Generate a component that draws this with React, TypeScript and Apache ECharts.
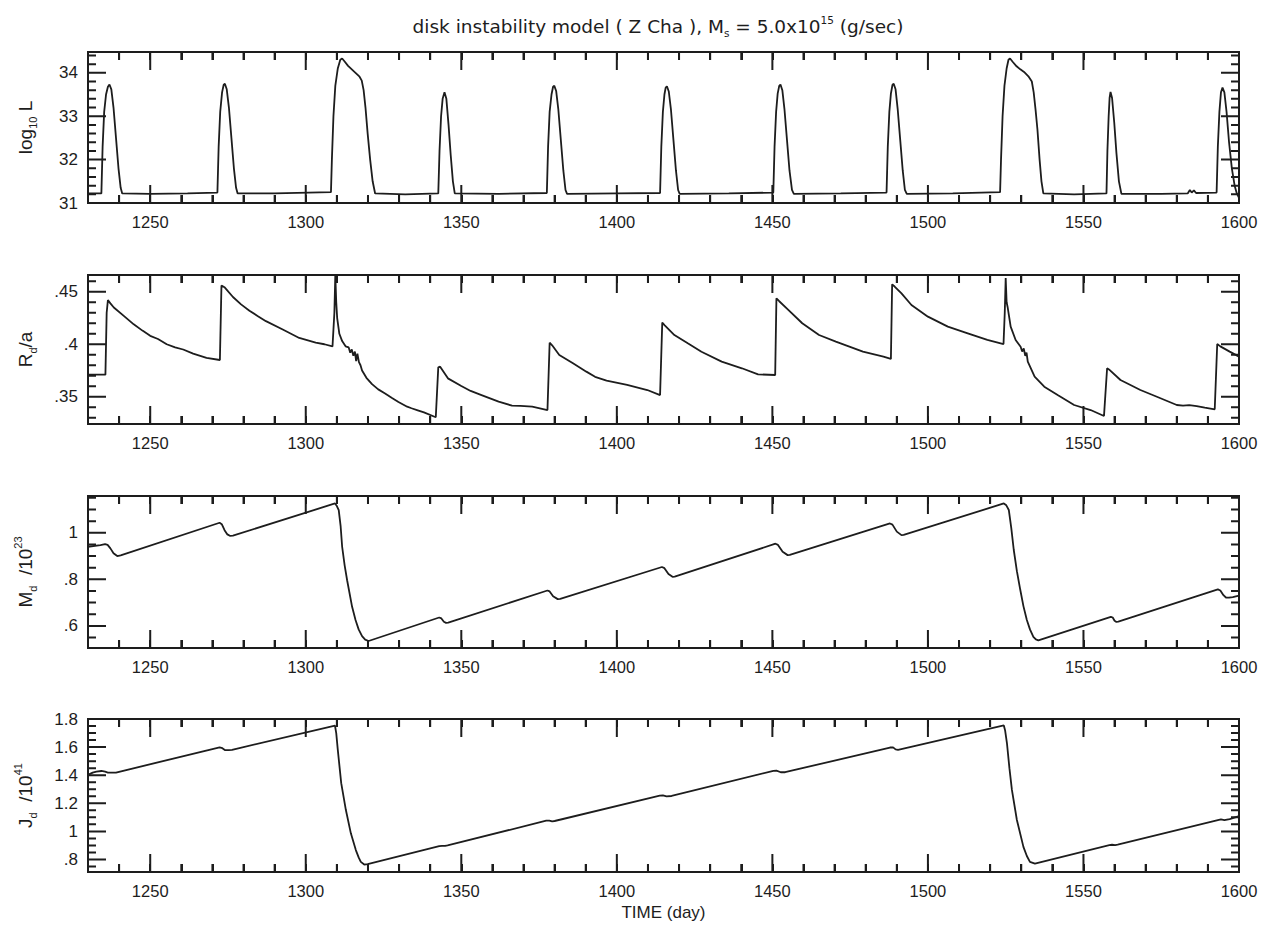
import React, { useEffect, useRef } from "react";
import * as echarts from "echarts";

// ---------- axes ----------
const X_MIN = 1230;
const X_MAX = 1600;
const X_STEP = 10;
const X_MAJOR = [1250, 1300, 1350, 1400, 1450, 1500, 1550, 1600];

const L_RANGE = [31, 34.48];
const L_MAJOR = [31, 32, 33, 34];
const R_RANGE = [0.324, 0.466];
const R_MAJOR = [0.35, 0.4, 0.45];
const M_RANGE = [0.505, 1.158];
const M_MAJOR = [0.6, 0.8, 1];
const J_RANGE = [0.711, 1.8];
const J_MAJOR = [0.8, 1, 1.2, 1.4, 1.6, 1.8];

// ---------- data: [time (day), value] ----------
const logL = [
  [1230.0, 31.22], [1234.3, 31.22], [1234.7, 32.3], [1235.2, 33.1], [1235.8, 33.5], [1236.4, 33.68], [1236.9, 33.73],
  [1237.5, 33.62], [1238.2, 33.2], [1239.0, 32.5], [1239.8, 31.8], [1240.5, 31.35], [1241.0, 31.22], [1250, 31.21],
  [1262, 31.22], [1271.6, 31.24], [1272.0, 32.3], [1272.5, 33.1], [1273.1, 33.55], [1273.6, 33.72], [1274.0, 33.75],
  [1274.6, 33.62], [1275.3, 33.2], [1276.1, 32.5], [1276.9, 31.8], [1277.6, 31.35], [1278.1, 31.22], [1290, 31.22],
  [1308.1, 31.25], [1308.4, 32.0], [1308.9, 33.0], [1309.5, 33.7], [1310.3, 34.1], [1311.1, 34.3], [1311.7, 34.33],
  [1312.5, 34.26], [1313.6, 34.16], [1314.8, 34.08], [1316.0, 34.0], [1317.2, 33.92], [1318.0, 33.82], [1318.6, 33.6],
  [1319.2, 33.2], [1319.9, 32.6], [1320.7, 32.0], [1321.5, 31.5], [1322.3, 31.22], [1332, 31.2], [1342.6, 31.22],
  [1343.0, 32.2], [1343.5, 33.0], [1344.0, 33.4], [1344.6, 33.55], [1345.2, 33.4], [1345.9, 32.8], [1346.6, 32.1],
  [1347.3, 31.5], [1347.9, 31.22], [1362, 31.21], [1377.5, 31.23], [1377.9, 32.3], [1378.4, 33.1], [1379.0, 33.5],
  [1379.5, 33.68], [1379.9, 33.7], [1380.5, 33.58], [1381.2, 33.15], [1382.0, 32.45], [1382.8, 31.75], [1383.5, 31.3],
  [1384.0, 31.21], [1400, 31.22], [1413.9, 31.23], [1414.3, 32.3], [1414.8, 33.1], [1415.3, 33.5], [1415.7, 33.66],
  [1416.1, 33.69], [1416.7, 33.57], [1417.4, 33.15], [1418.2, 32.45], [1419.0, 31.75], [1419.7, 31.3], [1420.2, 31.21],
  [1436, 31.22], [1450.3, 31.24], [1450.7, 32.3], [1451.2, 33.1], [1451.7, 33.52], [1452.2, 33.7], [1452.6, 33.73],
  [1453.2, 33.6], [1453.9, 33.15], [1454.7, 32.45], [1455.5, 31.75], [1456.3, 31.3], [1456.9, 31.21], [1472, 31.22],
  [1486.7, 31.24], [1487.1, 32.3], [1487.6, 33.1], [1488.1, 33.52], [1488.6, 33.72], [1489.0, 33.75], [1489.6, 33.62],
  [1490.3, 33.15], [1491.1, 32.45], [1491.9, 31.75], [1492.6, 31.3], [1493.2, 31.21], [1508, 31.22], [1523.2, 31.25],
  [1523.5, 32.0], [1524.0, 33.0], [1524.6, 33.7], [1525.3, 34.1], [1525.9, 34.3], [1526.4, 34.33], [1527.3, 34.25],
  [1528.5, 34.15], [1529.7, 34.08], [1530.9, 34.02], [1532.3, 33.92], [1533.4, 33.8], [1534.0, 33.55], [1534.6, 33.15],
  [1535.2, 32.7], [1535.9, 32.0], [1536.5, 31.5], [1537.1, 31.22], [1547, 31.2], [1557.4, 31.22], [1557.7, 32.2],
  [1558.1, 33.0], [1558.4, 33.42], [1558.7, 33.56], [1559.2, 33.42], [1559.9, 32.85], [1560.6, 32.15], [1561.4, 31.5],
  [1562.2, 31.21], [1575, 31.21], [1583.5, 31.22], [1584.2, 31.3], [1584.8, 31.24], [1585.5, 31.29], [1586.2, 31.23],
  [1592.8, 31.24], [1593.2, 32.3], [1593.7, 33.1], [1594.2, 33.55], [1594.7, 33.66], [1595.3, 33.55], [1596.0, 33.1],
  [1596.8, 32.4], [1597.7, 31.8], [1598.6, 31.4], [1599.3, 31.22], [1600, 31.12],
];

const rdA = [
  [1230, 0.371], [1235.6, 0.371], [1236.0, 0.43], [1236.4, 0.442], [1237.2, 0.439], [1238.3, 0.435], [1241.5, 0.427],
  [1244.7, 0.419], [1247.5, 0.413], [1250, 0.408], [1252.5, 0.405], [1255.3, 0.4], [1258, 0.397], [1260.6, 0.395],
  [1263.8, 0.391], [1268.1, 0.387], [1272.4, 0.385], [1272.9, 0.456], [1274.0, 0.454], [1276.6, 0.445], [1279.2, 0.438],
  [1281.9, 0.432], [1284.5, 0.427], [1287.2, 0.422], [1292.6, 0.414], [1297.9, 0.406], [1303.2, 0.4016], [1306, 0.4],
  [1308.6, 0.398], [1309.2, 0.43], [1309.5, 0.466], [1309.8, 0.44], [1310.1, 0.425], [1310.8, 0.41], [1311.7, 0.403],
  [1312.8, 0.398], [1313.8, 0.397], [1314.3, 0.392], [1314.8, 0.395], [1315.3, 0.389], [1315.8, 0.393], [1316.2, 0.384],
  [1316.6, 0.391], [1317.1, 0.383], [1317.6, 0.38], [1318.1, 0.375], [1319.5, 0.368], [1321.3, 0.362], [1323.3, 0.357],
  [1325.5, 0.353], [1327.6, 0.349], [1329.8, 0.345], [1332.6, 0.3405], [1334, 0.339], [1336, 0.337], [1338, 0.335],
  [1341.8, 0.3304], [1342.6, 0.378], [1343.2, 0.3786], [1345.7, 0.3675], [1350, 0.3602], [1353, 0.3555], [1356.5, 0.3516],
  [1362, 0.3453], [1366.3, 0.3415], [1369, 0.3413], [1372.8, 0.3405], [1377.7, 0.3373], [1378.4, 0.4015], [1379.2, 0.399],
  [1381.5, 0.3898], [1385.9, 0.3818], [1390.2, 0.3739], [1393, 0.369], [1396.7, 0.3653], [1403.3, 0.3612], [1409.8, 0.3564],
  [1413.9, 0.3516], [1414.6, 0.4206], [1415.4, 0.418], [1418.5, 0.4088], [1422.8, 0.4009], [1427.2, 0.3929], [1433.7, 0.3834],
  [1440.2, 0.3771], [1445.4, 0.3713], [1450.9, 0.3707], [1451.3, 0.4438], [1452.2, 0.441], [1455.2, 0.4326], [1459.6, 0.42],
  [1465, 0.4088], [1470.4, 0.4025], [1479.1, 0.3929], [1485.7, 0.3882], [1488.1, 0.386], [1488.5, 0.4571], [1489.3, 0.455],
  [1491.5, 0.4485], [1494.7, 0.4374], [1500, 0.4263], [1506.4, 0.4168], [1512.8, 0.4104], [1519.1, 0.4041], [1524.3, 0.4002],
  [1524.7, 0.43], [1525.0, 0.463], [1525.3, 0.44], [1525.6, 0.4358], [1526.6, 0.4168], [1528.2, 0.4041], [1529.8, 0.3977],
  [1530.3, 0.393], [1530.8, 0.396], [1531.3, 0.389], [1531.7, 0.392], [1532.1, 0.3834], [1534.3, 0.3691], [1537.4, 0.3596],
  [1541.7, 0.3516], [1547, 0.3421], [1552.3, 0.3373], [1556.6, 0.3316], [1557.6, 0.3771], [1558.2, 0.376], [1561.9, 0.3659],
  [1568.3, 0.3564], [1573.6, 0.35], [1580, 0.3421], [1582, 0.3415], [1584, 0.342], [1586.4, 0.3411], [1589, 0.3395],
  [1592.2, 0.338], [1593.0, 0.4002], [1594, 0.398], [1597, 0.393], [1600, 0.3882],
];

const massD = [
  [1230, 0.94], [1234, 0.947], [1235.5, 0.951], [1236.3, 0.948], [1237.2, 0.933], [1238.2, 0.912], [1239.4, 0.9],
  [1240.5, 0.903], [1272.3, 1.043], [1273.0, 1.037], [1273.9, 1.011], [1274.8, 0.993], [1275.6, 0.987], [1276.6, 0.988],
  [1309.4, 1.126], [1310.0, 1.115], [1310.6, 1.097], [1311.2, 1.03], [1311.7, 0.94], [1312.5, 0.86], [1313.3, 0.796],
  [1314.9, 0.682], [1316.0, 0.625], [1317, 0.585], [1318.1, 0.556], [1319.1, 0.541], [1320.2, 0.535], [1342.9, 0.636],
  [1343.6, 0.632], [1344.4, 0.618], [1345.1, 0.613], [1345.8, 0.614], [1377.7, 0.752], [1378.4, 0.748], [1379.5, 0.727],
  [1381, 0.715], [1381.8, 0.716], [1414.5, 0.853], [1415.3, 0.848], [1416.6, 0.823], [1417.9, 0.811], [1418.6, 0.812],
  [1451.0, 0.953], [1451.8, 0.948], [1453.3, 0.918], [1454.9, 0.904], [1455.6, 0.905], [1487.8, 1.04], [1488.6, 1.035],
  [1490.0, 1.005], [1491.5, 0.99], [1492.2, 0.991], [1524.4, 1.126], [1525.2, 1.118], [1526.0, 1.098], [1526.8, 1.02],
  [1527.6, 0.926], [1528.6, 0.835], [1529.7, 0.754], [1530.7, 0.685], [1531.8, 0.625], [1532.8, 0.585], [1533.9, 0.553],
  [1534.7, 0.542], [1535.5, 0.538], [1558.8, 0.639], [1559.4, 0.636], [1560.0, 0.622], [1560.6, 0.617], [1561.2, 0.618],
  [1593.2, 0.757], [1594.0, 0.752], [1595.0, 0.732], [1595.8, 0.722], [1596.8, 0.721], [1598, 0.724], [1600, 0.73],
];

const angJ = [
  [1230, 1.402], [1231.5, 1.418], [1232.7, 1.426], [1234.3, 1.43], [1235.5, 1.425], [1236.4, 1.419], [1239, 1.419],
  [1272.3, 1.598], [1273.2, 1.592], [1274.1, 1.578], [1275.2, 1.578], [1276.3, 1.581], [1309.4, 1.752], [1309.8, 1.7],
  [1310.3, 1.58], [1311.4, 1.343], [1312.9, 1.152], [1314.5, 0.986], [1316.1, 0.867], [1317.0, 0.815], [1317.7, 0.783],
  [1318.8, 0.764], [1319.9, 0.767], [1342.9, 0.895], [1343.8, 0.897], [1344.8, 0.897], [1345.6, 0.9], [1377.3, 1.076],
  [1378.3, 1.077], [1379.2, 1.072], [1380.0, 1.074], [1413.8, 1.254], [1414.8, 1.256], [1416.0, 1.249], [1417.6, 1.252],
  [1450.3, 1.431], [1451.3, 1.432], [1452.7, 1.421], [1454.1, 1.421], [1487.8, 1.597], [1488.8, 1.598], [1489.6, 1.584],
  [1490.4, 1.581], [1524.4, 1.754], [1524.8, 1.72], [1525.4, 1.629], [1526.2, 1.45], [1527.0, 1.295], [1528.6, 1.081],
  [1530.7, 0.89], [1531.8, 0.825], [1532.8, 0.783], [1534.4, 0.771], [1558.3, 0.902], [1559.2, 0.905], [1560.2, 0.903],
  [1561.0, 0.906], [1593.2, 1.081], [1594.2, 1.085], [1595.3, 1.081], [1597, 1.088], [1600, 1.109],
];

// ---------- helpers (tick positions only) ----------
function steps(a: number, b: number, s: number): number[] {
  const out: number[] = [];
  const n = Math.round((b - a) / s);
  for (let i = 0; i <= n; i++) out.push(+(a + i * s).toFixed(6));
  return out;
}
const X_TICKS = steps(1240, 1600, X_STEP); // multiples of 50 are major
const L_TICKS = steps(31.2, 34.4, 0.2);
const R_TICKS = steps(0.33, 0.46, 0.01);
const M_TICKS = steps(0.55, 1.15, 0.05);
const J_TICKS = steps(0.75, 1.8, 0.05);

const FONT = "'Liberation Sans', Arial, Helvetica, sans-serif";
const TITLE_FONT = "'DejaVu Sans', 'Liberation Sans', sans-serif";
const INK = "#1d1d1d";
const MAJOR_LEN = 18; // px
const MINOR_LEN = 8; // px
const TICK_W = 2;
const GRID_LEFT = 88;
const GRID_RIGHT = 38;
const PLOT_W = 1277 - GRID_LEFT - GRID_RIGHT;

const richStyles = {
  b: { fontSize: 19, fontFamily: FONT, color: INK, lineHeight: 26 },
  s: { fontSize: 11, fontFamily: FONT, color: INK, lineHeight: 12, verticalAlign: "bottom" as const },
  p: { fontSize: 11, fontFamily: FONT, color: INK, lineHeight: 12, verticalAlign: "top" as const },
};

const fmt = (v: number) => {
  const s = String(+v.toFixed(4));
  return s.startsWith("0.") ? s.slice(1) : s;
};

const PANELS = [
  { top: 52, height: 151, range: L_RANGE, major: L_MAJOR, ticks: L_TICKS, data: logL, name: "{b|log}{s|10}{b| L}", gap: 50 },
  { top: 275, height: 149, range: R_RANGE, major: R_MAJOR, ticks: R_TICKS, data: rdA, name: "{b|R}{s|d}{b|/a}", gap: 50 },
  { top: 496, height: 152, range: M_RANGE, major: M_MAJOR, ticks: M_TICKS, data: massD, name: "{b|M}{s|d}{b|  /10}{p|23}", gap: 50 },
  { top: 719, height: 153, range: J_RANGE, major: J_MAJOR, ticks: J_TICKS, data: angJ, name: "{b|J}{s|d}{b|  /10}{p|41}", gap: 50 },
];

const isIn = (list: number[], v: number) => list.some((m) => Math.abs(m - v) < 1e-6);

// A continuous comb running along one edge of the frame: along the edge, in for the tick, back, on.
function combX(p: (typeof PANELS)[number], atTop: boolean) {
  const [yMin, yMax] = p.range;
  const span = yMax - yMin;
  const base = atTop ? yMax : yMin;
  const sign = atTop ? -1 : 1;
  const pts: number[][] = [[X_MIN, base]];
  X_TICKS.forEach((v) => {
    const len = isIn(X_MAJOR, v) ? MAJOR_LEN : MINOR_LEN;
    const d = (len / p.height) * span * sign;
    pts.push([v, base], [v, base + d], [v, base]);
  });
  return pts;
}
function combY(p: (typeof PANELS)[number], atRight: boolean) {
  const span = X_MAX - X_MIN;
  const base = atRight ? X_MAX : X_MIN;
  const sign = atRight ? -1 : 1;
  const pts: number[][] = [[base, p.range[0]]];
  p.ticks.forEach((v) => {
    const len = isIn(p.major, v) ? MAJOR_LEN : MINOR_LEN;
    const d = (len / PLOT_W) * span * sign;
    pts.push([base, v], [base + d, v], [base, v]);
  });
  pts.push([base, p.range[1]]);
  return pts;
}

function buildOption() {
  const grid: any[] = [];
  const xAxis: any[] = [];
  const yAxis: any[] = [];
  const series: any[] = [];

  PANELS.forEach((p, g) => {
    grid.push({
      left: GRID_LEFT,
      right: GRID_RIGHT,
      top: p.top,
      height: p.height,
      show: true,
      borderColor: INK,
      borderWidth: 2,
      backgroundColor: "transparent",
    });

    const nativeTicks = {
      show: true,
      inside: true,
      length: MINOR_LEN,
      lineStyle: { color: INK, width: TICK_W },
    };

    // bottom axis: native 10-day ticks (min is a multiple of the interval), labels every 50
    xAxis.push({
      type: "value",
      gridIndex: g,
      position: "bottom",
      min: X_MIN,
      max: X_MAX,
      interval: X_STEP,
      axisLine: { show: false, onZero: false },
      axisTick: nativeTicks,
      axisLabel: {
        show: true,
        customValues: X_MAJOR,
        margin: 10,
        fontSize: 16.5,
        fontFamily: FONT,
        color: INK,
        formatter: (v: number) => String(v),
      },
      splitLine: { show: false },
      ...(g === 3
        ? {
            name: "TIME (day)",
            nameLocation: "middle",
            nameGap: 32,
            nameTextStyle: { fontSize: 17, fontFamily: FONT, color: INK },
          }
        : {}),
    });
    // top axis: same ticks, no labels
    xAxis.push({
      type: "value",
      gridIndex: g,
      position: "top",
      min: X_MIN,
      max: X_MAX,
      interval: X_STEP,
      axisLine: { show: false, onZero: false },
      axisTick: nativeTicks,
      axisLabel: { show: false },
      splitLine: { show: false },
    });

    yAxis.push({
      type: "value",
      gridIndex: g,
      position: "left",
      min: p.range[0],
      max: p.range[1],
      axisLine: { show: false, onZero: false },
      axisTick: { show: false },
      axisLabel: {
        show: true,
        customValues: p.major,
        margin: 10,
        fontSize: 17,
        fontFamily: FONT,
        color: INK,
        formatter: (v: number) => fmt(v),
      },
      splitLine: { show: false },
      name: p.name,
      nameLocation: "middle",
      nameRotate: 90,
      nameGap: p.gap,
      nameTextStyle: { rich: richStyles, fontFamily: FONT, fontSize: 19, color: INK },
    });

    [combX(p, false), combX(p, true), combY(p, false), combY(p, true)].forEach((pts) => {
      series.push({
        type: "line",
        xAxisIndex: g * 2,
        yAxisIndex: g,
        data: pts,
        showSymbol: false,
        symbol: "none",
        lineStyle: { color: INK, width: TICK_W },
        clip: true,
        silent: true,
        z: 4,
      });
    });

    series.push({
      type: "line",
      xAxisIndex: g * 2,
      yAxisIndex: g,
      data: p.data,
      showSymbol: false,
      symbol: "none",
      lineStyle: { color: INK, width: 1.8 },
      clip: true,
      silent: true,
      z: 4,
    });
  });

  return {
    animation: false,
    backgroundColor: "#ffffff",
    grid,
    xAxis,
    yAxis,
    series,
    graphic: [
      {
        type: "text",
        x: 658,
        y: 26,
        style: {
          text: "{b|disk instability model ( Z Cha ), M}{s|s}{b| = 5.0x10}{p|15}{b| (g/sec)}",
          align: "center",
          verticalAlign: "middle",
          rich: {
            b: { fontSize: 18.5, fontFamily: TITLE_FONT, fill: INK, lineHeight: 24 },
            s: { fontSize: 10.5, fontFamily: TITLE_FONT, fill: INK, lineHeight: 11, verticalAlign: "bottom" },
            p: { fontSize: 10.5, fontFamily: TITLE_FONT, fill: INK, lineHeight: 11, verticalAlign: "top" },
          },
        },
      },
    ],
  };
}

export default function App() {
  const ref = useRef<HTMLDivElement>(null);
  useEffect(() => {
    if (!ref.current) return;
    const chart = echarts.init(ref.current, undefined, { renderer: "svg" });
    chart.setOption(buildOption() as any);
    return () => chart.dispose();
  }, []);
  return (
    <div
      ref={ref}
      style={{ position: "fixed", left: 0, top: 0, width: 1277, height: 927, background: "#fff" }}
    />
  );
}
